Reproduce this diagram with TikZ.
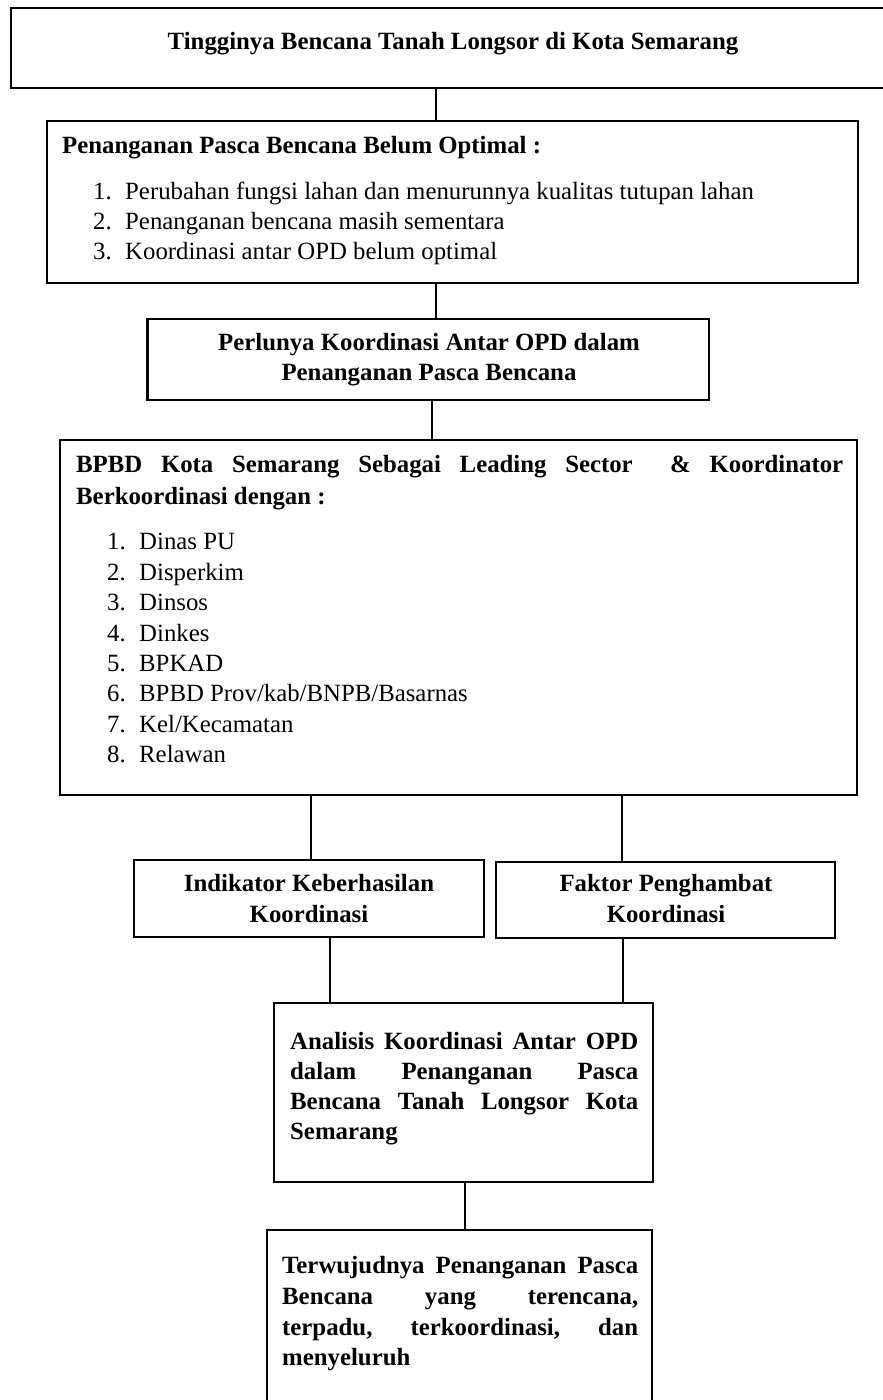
\documentclass[tikz,border=0pt]{standalone}
\usepackage{fontspec}
\setmainfont{Liberation Serif}
\begin{document}
\begin{tikzpicture}[x=1pt,y=-1pt,
  box/.style={draw=black, line width=2.6pt, inner sep=0pt, fill=none},
  txt/.style={inner sep=0pt, font=\fontsize{24.8}{30}\selectfont},
  btxt/.style={inner sep=0pt, font=\fontsize{24.8}{30}\selectfont\bfseries},
  link/.style={draw=black, line width=2.6pt}]
\useasboundingbox (0,0) rectangle (883,1400);
\clip (0,0) rectangle (883,1400);
\fill[white] (0,0) rectangle (883,1400);

% boxes
\node[box, minimum width=884pt, minimum height=80pt] (b1) at (453,48) {};
\node[box, minimum width=811pt, minimum height=162pt] (b2) at (452.5,202) {};
\node[box, minimum width=561.5pt, minimum height=81pt] (b3) at (428.25,359.5) {};
\node[box, minimum width=797pt, minimum height=355pt] (b4) at (458.5,617.5) {};
\node[box, minimum width=350pt, minimum height=77pt] (b5) at (309,898.5) {};
\node[box, minimum width=339pt, minimum height=76pt] (b6) at (665.5,900) {};
\node[box, minimum width=379pt, minimum height=179pt] (b7) at (463.5,1092.5) {};
\node[box, minimum width=385pt, minimum height=200pt] (b8) at (459.5,1330) {};

\begin{scope}[shift={(0,5.5)}]
\node[btxt, anchor=mid] (t1) at (453,42) {Tingginya Bencana Tanah Longsor di Kota Semarang};

\node[btxt, anchor=mid west] (t2h) at (62,146) {Penanganan Pasca Bencana Belum Optimal :};
\node[txt, anchor=mid west] (t2n1) at (93,192) {1.};
\node[txt, anchor=mid west] (t2i1) at (125,192) {Perubahan fungsi lahan dan menurunnya kualitas tutupan lahan};
\node[txt, anchor=mid west] (t2n2) at (93,222) {2.};
\node[txt, anchor=mid west] (t2i2) at (125,222) {Penanganan bencana masih sementara};
\node[txt, anchor=mid west] (t2n3) at (93,252) {3.};
\node[txt, anchor=mid west] (t2i3) at (125,252) {Koordinasi antar OPD belum optimal};

\node[btxt, anchor=mid] (t3a) at (429,343) {Perlunya Koordinasi Antar OPD dalam};
\node[btxt, anchor=mid] (t3b) at (429,373) {Penanganan Pasca Bencana};

\node[btxt, anchor=mid west] (t4a) at (76,465) {\hbox to 767pt{BPBD\hfill Kota\hfill Semarang\hfill Sebagai\hfill Leading\hfill Sector\hfill\hfill \&\hfill Koordinator}};
\node[btxt, anchor=mid west] (t4b) at (76,497) {Berkoordinasi dengan :};
\node[txt, anchor=mid west] (t4n1) at (107,542) {1.};
\node[txt, anchor=mid west] (t4i1) at (139,542) {Dinas PU};
\node[txt, anchor=mid west] (t4n2) at (107,572.4) {2.};
\node[txt, anchor=mid west] (t4i2) at (139,572.4) {Disperkim};
\node[txt, anchor=mid west] (t4n3) at (107,602.8) {3.};
\node[txt, anchor=mid west] (t4i3) at (139,602.8) {Dinsos};
\node[txt, anchor=mid west] (t4n4) at (107,633.2) {4.};
\node[txt, anchor=mid west] (t4i4) at (139,633.2) {Dinkes};
\node[txt, anchor=mid west] (t4n5) at (107,663.6) {5.};
\node[txt, anchor=mid west] (t4i5) at (139,663.6) {BPKAD};
\node[txt, anchor=mid west] (t4n6) at (107,694) {6.};
\node[txt, anchor=mid west] (t4i6) at (139,694) {BPBD Prov/kab/BNPB/Basarnas};
\node[txt, anchor=mid west] (t4n7) at (107,724.4) {7.};
\node[txt, anchor=mid west] (t4i7) at (139,724.4) {Kel/Kecamatan};
\node[txt, anchor=mid west] (t4n8) at (107,754.8) {8.};
\node[txt, anchor=mid west] (t4i8) at (139,754.8) {Relawan};

\node[btxt, anchor=mid] (t5a) at (309,884) {Indikator Keberhasilan};
\node[btxt, anchor=mid] (t5b) at (309,915) {Koordinasi};
\node[btxt, anchor=mid] (t6a) at (666,884) {Faktor Penghambat};
\node[btxt, anchor=mid] (t6b) at (666,915) {Koordinasi};

\node[btxt, anchor=mid west] (t7a) at (290,1042) {\hbox to 348pt{Analisis\hfill Koordinasi\hfill Antar\hfill OPD}};
\node[btxt, anchor=mid west] (t7b) at (290,1072) {\hbox to 348pt{dalam\hfill Penanganan\hfill Pasca}};
\node[btxt, anchor=mid west] (t7c) at (290,1102) {\hbox to 348pt{Bencana\hfill Tanah\hfill Longsor\hfill Kota}};
\node[btxt, anchor=mid west] (t7d) at (290,1132) {Semarang};

\node[btxt, anchor=mid west] (t8a) at (282,1266) {\hbox to 356pt{Terwujudnya\hfill Penanganan\hfill Pasca}};
\node[btxt, anchor=mid west] (t8b) at (282,1297) {\hbox to 356pt{Bencana\hfill yang\hfill terencana,}};
\node[btxt, anchor=mid west] (t8c) at (282,1328) {\hbox to 356pt{terpadu,\hfill terkoordinasi,\hfill dan}};
\node[btxt, anchor=mid west] (t8d) at (282,1358) {menyeluruh};
\end{scope}

% connectors
\draw[link] (b1.south -| 436,0) -- (b2.north -| 436,0);
\draw[link] (b2.south -| 436,0) -- (b3.north -| 436,0);
\draw[link] (b3.south -| 432,0) -- (b4.north -| 432,0);
\draw[link] (b4.south -| 311,0) -- (b5.north -| 311,0);
\draw[link] (b4.south -| 622,0) -- (b6.north -| 622,0);
\draw[link] (b5.south -| 330,0) -- (b7.north -| 330,0);
\draw[link] (b6.south -| 623,0) -- (b7.north -| 623,0);
\draw[link] (b7.south -| 465,0) -- (b8.north -| 465,0);
\end{tikzpicture}
\end{document}
